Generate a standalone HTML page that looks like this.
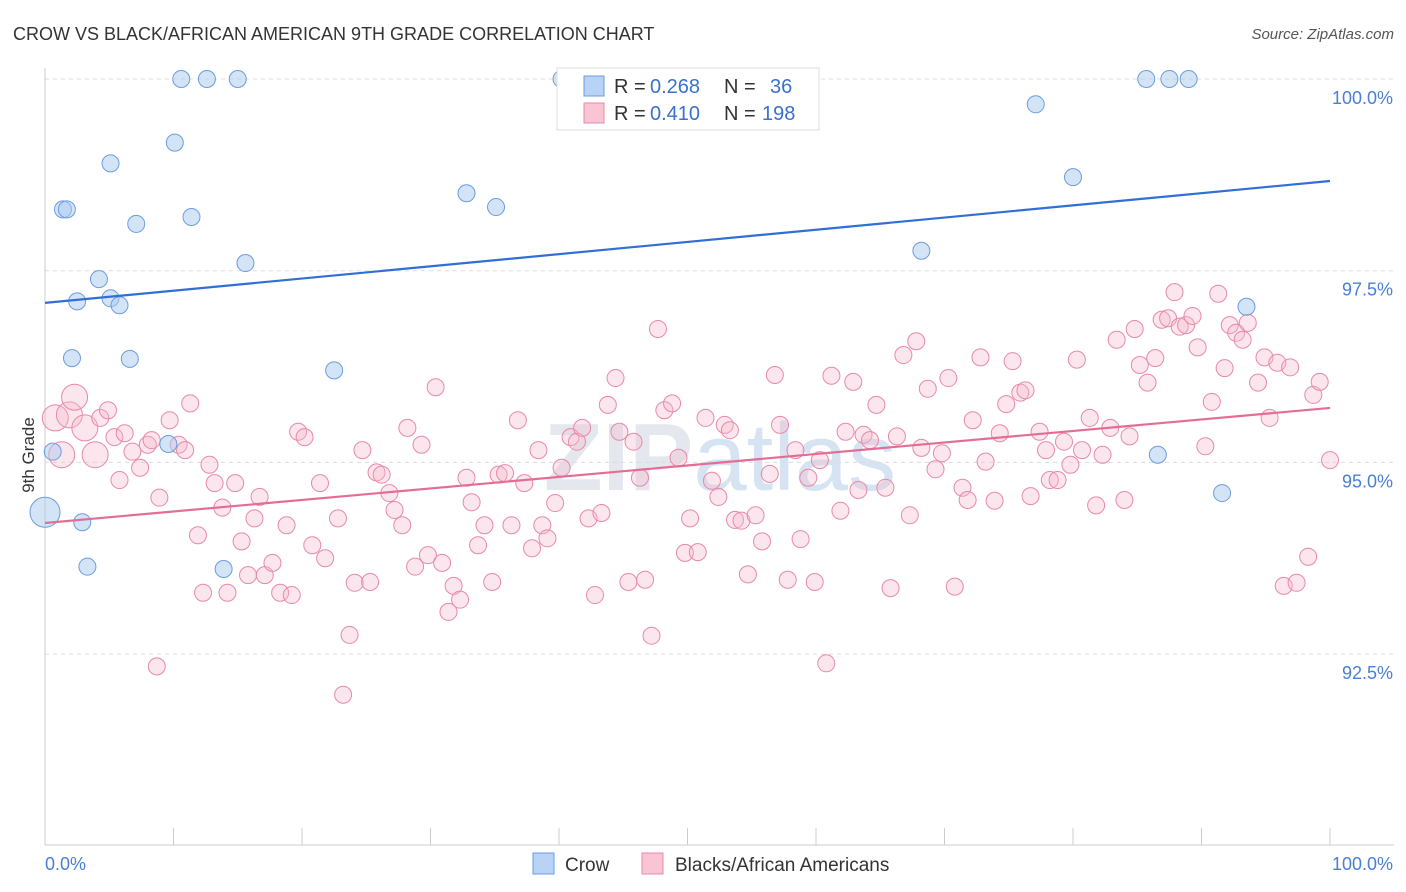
<!DOCTYPE html>
<html><head><meta charset="utf-8"><style>
body{margin:0;background:#fff;font-family:"Liberation Sans",sans-serif;}
svg{display:block}
</style></head><body>
<svg id="chart" width="1406" height="892" xmlns="http://www.w3.org/2000/svg">
<text x="13" y="40" font-size="18" fill="#333">CROW VS BLACK/AFRICAN AMERICAN 9TH GRADE CORRELATION CHART</text>
<text x="1394" y="39" font-size="15" fill="#555" text-anchor="end" font-style="italic">Source: ZipAtlas.com</text>
<text x="720" y="490" font-size="96" fill="#e4e8ee" text-anchor="middle" font-weight="bold">ZIP<tspan fill="#d6e3f3" font-weight="normal">atlas</tspan></text>
<g id="grid"></g>
<g id="axes"></g>
<g id="pts"></g>
<g id="trends"></g>
<text transform="translate(34,455) rotate(-90)" font-size="17" fill="#333" text-anchor="middle">9th Grade</text>
<g>
<rect x="557" y="68" width="262" height="62" fill="#fff" stroke="#ddd"/>
<rect x="584" y="76" width="20" height="20" fill="#b8d3f5" stroke="#6a9de0"/>
<rect x="584" y="103" width="20" height="20" fill="#f9c5d5" stroke="#e88aa8"/>
<text x="614" y="93" font-size="20" fill="#333">R =</text>
<text x="650" y="93" font-size="20" fill="#3a70d0">0.268</text>
<text x="724" y="93" font-size="20" fill="#333">N =</text>
<text x="770" y="93" font-size="20" fill="#3a70d0">36</text>
<text x="614" y="120" font-size="20" fill="#333">R =</text>
<text x="650" y="120" font-size="20" fill="#3a70d0">0.410</text>
<text x="724" y="120" font-size="20" fill="#333">N =</text>
<text x="762" y="120" font-size="20" fill="#3a70d0">198</text>
</g>
<g>
<rect x="533" y="853" width="21" height="21" fill="#b8d3f5" stroke="#6a9de0"/>
<text x="565" y="871" font-size="19" fill="#333">Crow</text>
<rect x="642" y="853" width="21" height="21" fill="#f9c5d5" stroke="#e88aa8"/>
<text x="675" y="871" font-size="19" fill="#333">Blacks/African Americans</text>
</g>
</svg>
<script>
const crowX=[10.6,12.6,15.0,40.2,56.4,85.7,87.5,89.0,77.1,10.1,5.1,1.4,1.7,32.8,35.1,11.4,7.1,80.0,68.2,15.6,4.2,2.5,5.1,5.8,93.5,2.1,6.6,22.5,0.6,9.6,86.6,91.6,0,2.9,3.3,13.9];
const crowY=[100,100,100,100,100,100,100,100,99.67,99.17,98.9,98.3,98.3,98.51,98.33,98.2,98.11,98.72,97.76,97.6,97.39,97.1,97.14,97.05,97.03,96.36,96.35,96.2,95.14,95.24,95.1,94.6,94.35,94.22,93.64,93.61];
const blackX=[0.8,1.9,1.3,2.3,3.1,3.9,4.3,4.9,5.4,6.2,5.8,6.8,7.4,8.0,8.3,8.9,9.7,10.4,10.9,11.3,8.7,11.9,12.3,12.8,13.2,13.8,14.2,14.8,15.3,15.8,16.3,16.7,17.1,17.7,18.3,18.8,19.2,19.7,20.2,20.8,21.4,21.8,22.8,23.2,23.7,24.1,24.7,25.3,25.8,26.2,26.8,27.2,27.8,28.2,28.8,29.3,29.8,30.4,30.9,31.4,31.8,32.3,32.8,33.2,33.7,34.2,34.8,35.3,35.8,36.3,36.8,37.3,37.9,38.4,38.7,39.1,39.7,40.2,40.9,41.4,41.8,42.3,42.8,43.3,43.8,44.4,44.7,45.4,45.8,46.3,46.7,47.2,47.7,48.2,48.8,49.3,49.8,50.2,50.8,51.4,51.9,52.4,52.9,53.3,53.7,54.2,54.7,55.3,55.8,56.4,56.8,57.2,57.8,58.4,58.8,59.4,59.9,60.3,60.8,61.2,61.9,62.3,62.9,63.3,63.7,64.2,64.7,65.4,65.8,66.3,66.8,67.3,67.8,68.2,68.7,69.3,69.8,70.3,70.8,71.4,71.8,72.2,72.8,73.2,73.9,74.3,74.8,75.3,75.9,76.3,76.7,77.4,77.9,78.2,78.8,79.3,79.8,80.3,80.7,81.3,81.8,82.3,82.9,83.4,84.0,84.4,84.8,85.2,85.8,86.4,86.9,87.4,87.9,88.3,88.8,89.3,89.7,90.3,90.8,91.3,91.8,92.2,92.7,93.2,93.6,94.4,94.9,95.3,95.9,96.4,96.9,97.4,98.3,98.7,99.2,100];
const blackY=[95.58,95.62,95.10,95.85,95.45,95.10,95.58,95.68,95.33,95.38,94.77,95.14,94.93,95.23,95.29,94.54,95.55,95.23,95.16,95.77,92.34,94.05,93.30,94.97,94.73,94.41,93.30,94.73,93.97,93.53,94.27,94.55,93.53,93.69,93.30,94.18,93.27,95.40,95.33,93.92,94.73,93.75,94.27,91.97,92.75,93.43,95.16,93.44,94.87,94.84,94.60,94.38,94.18,95.45,93.64,95.23,93.79,95.98,93.69,93.05,93.39,93.21,94.80,94.48,93.92,94.18,93.44,94.84,94.86,94.18,95.55,94.73,93.88,95.16,94.18,94.01,94.47,94.93,95.33,95.27,95.45,94.27,93.27,94.34,95.75,96.10,95.40,93.44,95.27,94.80,93.47,92.74,96.74,95.68,95.77,95.06,93.82,94.27,93.83,95.58,94.76,94.55,95.49,95.42,94.25,94.24,93.54,94.31,93.97,94.85,96.14,95.49,93.47,95.16,94.00,94.80,93.44,95.03,92.38,96.13,94.37,95.40,96.05,94.64,95.36,95.29,95.75,94.67,93.36,95.34,96.40,94.31,96.58,95.19,95.96,94.91,95.12,96.10,93.38,94.67,94.51,95.55,96.37,95.01,94.50,95.38,95.76,96.32,95.91,95.94,94.56,95.40,95.16,94.77,94.77,95.27,94.97,96.34,95.16,95.58,94.44,95.10,95.45,96.60,94.51,95.34,96.74,96.27,96.04,96.36,96.86,96.88,97.22,96.77,96.79,96.91,96.50,95.21,95.79,97.20,96.23,96.79,96.69,96.60,96.82,96.04,96.37,95.58,96.30,93.39,96.24,93.43,93.77,95.88,96.05,95.03];
const trendCrow=[97.08,98.67];
const trendBlack=[94.21,95.71];
const yTicks=[100,97.5,95,92.5];
const yTickLabels=["100.0%","97.5%","95.0%","92.5%"];
const xTicks=[0,10,20,30,40,50,60,70,80,90,100];

const X=v=>45+v*12.85;
const Y=v=>79+(100-v)*76.68;
const NS="http://www.w3.org/2000/svg";
function mk(tag,attrs,parent){const e=document.createElementNS(NS,tag);for(const k in attrs)e.setAttribute(k,attrs[k]);document.getElementById(parent).appendChild(e);return e;}

yTicks.forEach((t,i)=>{
  const l=mk('line',{x1:45,x2:1394,y1:Y(t),y2:Y(t),stroke:'#dcdcdc','stroke-dasharray':'4,4'},'grid');
  
  
  const tx=mk('text',{x:1393,y:Y(t)+25,'font-size':18,fill:'#4a7fd4','text-anchor':'end'},'axes');
  tx.textContent=yTickLabels[i];
  
  
});
let ax=mk('line',{x1:45,x2:45,y1:68,y2:845,stroke:'#ccc'},'axes');


ax=mk('line',{x1:45,x2:1394,y1:845,y2:845,stroke:'#ccc'},'axes');


xTicks.forEach(t=>{
  const l=mk('line',{x1:X(t),x2:X(t),y1:828,y2:845,stroke:'#ccc'},'axes');
  
  
});
let xl=mk('text',{x:45,y:870,'font-size':18,fill:'#4a7fd4'},'axes');xl.textContent='0.0%';


xl=mk('text',{x:1393,y:870,'font-size':18,fill:'#4a7fd4','text-anchor':'end'},'axes');xl.textContent='100.0%';



blackX.forEach((x,i)=>{
  const r=i<6?13:8.5;
  const c=mk('circle',{cx:X(x),cy:Y(blackY[i]),r:r,fill:'#f7b6cb','fill-opacity':0.35,stroke:'#e889a8','stroke-width':1},'pts');
  
  
});
crowX.forEach((x,i)=>{
  const r=(x===0)?15:8.5;
  const c=mk('circle',{cx:X(x),cy:Y(crowY[i]),r:r,fill:'#a9c9f0','fill-opacity':0.5,stroke:'#6a9de0','stroke-width':1},'pts');
  
  
});
let t1=mk('line',{x1:X(0),x2:X(100),y1:Y(trendCrow[0]),y2:Y(trendCrow[1]),stroke:'#2f6fd6','stroke-width':2.2},'trends');


let t2=mk('line',{x1:X(0),x2:X(100),y1:Y(trendBlack[0]),y2:Y(trendBlack[1]),stroke:'#e46d95','stroke-width':2.2},'trends');


</script>
</body></html>
